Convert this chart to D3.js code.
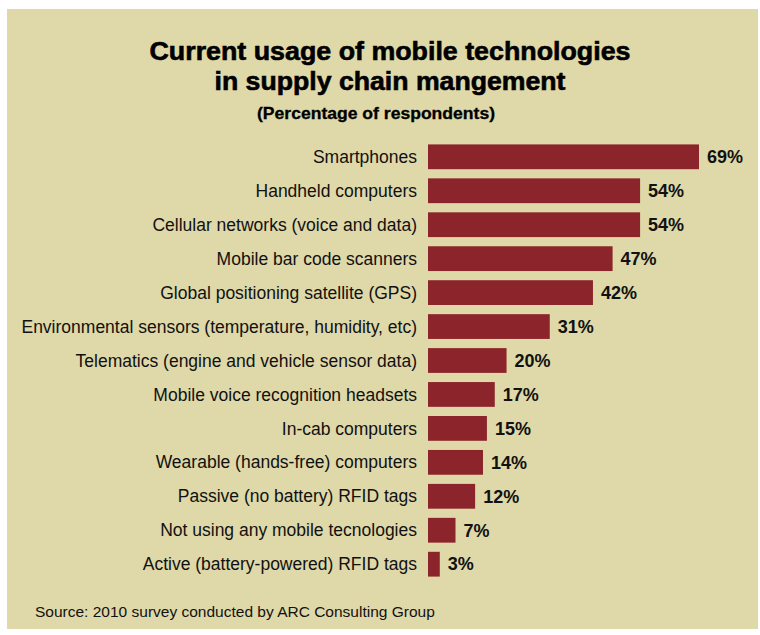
<!DOCTYPE html>
<html>
<head>
<meta charset="utf-8">
<script src="https://cdn.jsdelivr.net/npm/d3@7"></script>
<style>
  html, body { margin: 0; padding: 0; background: #fff; }
</style>
</head>
<body>
<div id="chart"></div>
<script>
// chart data
const categories = [
    "Smartphones",
    "Handheld computers",
    "Cellular networks (voice and data)",
    "Mobile bar code scanners",
    "Global positioning satellite (GPS)",
    "Environmental sensors (temperature, humidity, etc)",
    "Telematics (engine and vehicle sensor data)",
    "Mobile voice recognition headsets",
    "In-cab computers",
    "Wearable (hands-free) computers",
    "Passive (no battery) RFID tags",
    "Not using any mobile tecnologies",
    "Active (battery-powered) RFID tags"
];
const values = [69, 54, 54, 47, 42, 31, 20, 17, 15, 14, 12, 7, 3];

const titleLines = ["Current usage of mobile technologies", "in supply chain mangement"];
const subtitle = "(Percentage of respondents)";
const source = "Source: 2010 survey conducted by ARC Consulting Group";

const width = 760, height = 635;

const svg = d3.select("#chart")
    .append("svg")
    .attr("width", width)
    .attr("height", height);

svg.append("rect")
    .attr("x", 7).attr("y", 9)
    .attr("width", 751).attr("height", 620)
    .attr("fill", "#dfd8a8");

// title: condensed bold look, squeezed to the reference widths
const titleWidths = [481, 351];
svg.selectAll(".title")
    .data(titleLines)
    .enter()
    .append("text")
    .attr("class", "title")
    .attr("x", 390)
    .attr("y", (d, i) => 59.5 + i * 30)
    .attr("text-anchor", "middle")
    .attr("textLength", (d, i) => titleWidths[i])
    .attr("lengthAdjust", "spacingAndGlyphs")
    .style("font-family", "'Liberation Sans', Arial, sans-serif")
    .style("font-weight", "bold")
    .style("font-size", "25.5px")
    .style("fill", "#000")
    .style("stroke", "#000")
    .style("stroke-width", 0.6)
    .text(d => d);

svg.append("text")
    .attr("x", 376)
    .attr("y", 118.5)
    .attr("text-anchor", "middle")
    .attr("textLength", 238)
    .attr("lengthAdjust", "spacingAndGlyphs")
    .style("font-family", "'Liberation Sans', Arial, sans-serif")
    .style("font-weight", "bold")
    .style("font-size", "16.5px")
    .style("fill", "#000")
    .style("stroke", "#000")
    .style("stroke-width", 0.3)
    .text(subtitle);

const x = d3.scaleLinear()
    .domain([0, 69])
    .range([428, 699]);

const y = d3.scaleBand()
    .domain(categories)
    .range([140, 581])
    .paddingInner(0.27)
    .paddingOuter(0.13);

const row = svg.selectAll(".row")
    .data(categories)
    .enter()
    .append("g")
    .attr("class", "row");

row.append("rect")
    .attr("x", x(0))
    .attr("y", d => y(d))
    .attr("width", (d, i) => x(values[i]) - x(0))
    .attr("height", y.bandwidth())
    .attr("fill", "#8b252b");

row.append("text")
    .attr("x", 417)
    .attr("y", d => y(d) + y.bandwidth() / 2)
    .attr("dy", "0.35em")
    .attr("text-anchor", "end")
    .style("font-family", "'Liberation Sans', Arial, sans-serif")
    .style("font-size", "17.5px")
    .style("fill", "#111")
    .text(d => d);

row.append("text")
    .attr("x", (d, i) => x(values[i]) + 8)
    .attr("y", d => y(d) + y.bandwidth() / 2)
    .attr("dy", "0.35em")
    .style("font-family", "'Liberation Sans', Arial, sans-serif")
    .style("font-weight", "bold")
    .style("font-size", "18px")
    .style("fill", "#111")
    .text((d, i) => values[i] + "%");

svg.append("text")
    .attr("x", 35)
    .attr("y", 617)
    .style("font-family", "'Liberation Sans', Arial, sans-serif")
    .style("font-size", "15.5px")
    .style("fill", "#111")
    .text(source);
</script>
</body>
</html>
